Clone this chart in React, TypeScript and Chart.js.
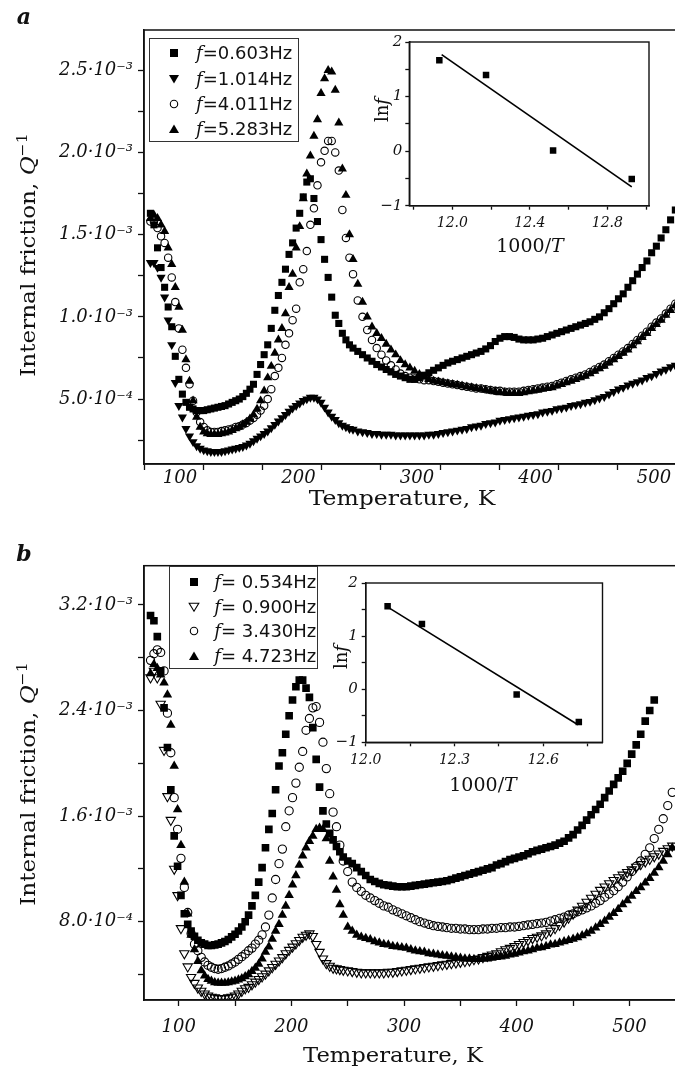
import React, { useEffect, useRef } from "react";
import { Chart, registerables } from "chart.js";

Chart.register(...registerables);

// ---------- Temperatures (K) ----------
const T_A = [
  75, 78, 81, 84, 87, 90, 93, 96, 99, 102, 105, 108, 111, 114, 117, 120, 123, 126, 129, 132,
  135, 138, 141, 144, 147, 150, 153, 156, 159, 162, 165, 168, 171, 174, 177, 180, 183, 186, 189, 192,
  195, 198, 201, 204, 207, 210, 213, 216, 219, 222, 225, 228, 231, 234, 237, 240, 243, 246,
  250, 254, 258, 262, 266, 270, 274, 278, 282, 286, 290, 294, 298, 302, 306, 310, 314, 318, 322, 326,
  330, 334, 338, 342, 346, 350, 354, 358, 362, 366, 370, 374, 378, 382, 386, 390, 394, 398, 402, 406,
  410, 414, 418, 422, 426, 430, 434, 438, 442, 446, 450, 454, 458, 462, 466, 470, 474, 478, 482, 486,
  490, 494, 498, 502, 506, 510, 514, 518,
];
const T_B = [
  75, 78, 81, 84, 87, 90, 93, 96, 99, 102, 105, 108, 111, 114, 117, 120, 123, 126, 129, 132,
  135, 138, 141, 144, 147, 150, 153, 156, 159, 162, 165, 168, 171, 174, 177, 180, 183, 186, 189, 192,
  195, 198, 201, 204, 207, 210, 213, 216, 219, 222, 225, 228, 231, 234, 237, 240, 243, 246,
  250, 254, 258, 262, 266, 270, 274, 278, 282, 286, 290, 294, 298, 302, 306, 310, 314, 318, 322, 326,
  330, 334, 338, 342, 346, 350, 354, 358, 362, 366, 370, 374, 378, 382, 386, 390, 394, 398, 402, 406,
  410, 414, 418, 422, 426, 430, 434, 438, 442, 446, 450, 454, 458, 462, 466, 470, 474, 478, 482, 486,
  490, 494, 498, 502, 506, 510, 514, 518, 522, 526, 530, 534, 538,
];

// ---------- Internal friction Q^-1, in units of 1e-4 ----------
// panel a
const QA_F0603 = [
  16.3, 15.6, 14.2, 13.0, 11.8, 10.6, 9.4, 7.6, 6.2, 5.3,
  4.8, 4.5, 4.4, 4.3, 4.3, 4.3, 4.35, 4.4, 4.45, 4.5,
  4.55, 4.6, 4.7, 4.8, 4.9, 5.0, 5.15, 5.35, 5.6, 5.9,
  6.5, 7.1, 7.7, 8.3, 9.3, 10.4, 11.3, 12.1, 12.9, 13.8,
  14.5, 15.4, 16.3, 17.3, 18.2, 18.4, 17.2, 15.8, 14.7, 13.5,
  12.4, 11.2, 10.1, 9.6, 9.0, 8.6, 8.3, 8.1,
  7.9, 7.7, 7.5, 7.3, 7.1, 6.95, 6.8, 6.65, 6.5, 6.4,
  6.3, 6.2, 6.2, 6.3, 6.45, 6.6, 6.75, 6.9, 7.05, 7.2,
  7.3, 7.4, 7.5, 7.6, 7.7, 7.8, 7.9, 8.05, 8.25, 8.5,
  8.7, 8.8, 8.8, 8.75, 8.65, 8.6, 8.6, 8.6, 8.65, 8.7,
  8.8, 8.9, 9.0, 9.1, 9.2, 9.3, 9.4, 9.5, 9.6, 9.7,
  9.85, 10.0, 10.25, 10.5, 10.8, 11.1, 11.4, 11.8, 12.2, 12.6,
  13.0, 13.4, 13.9, 14.3, 14.8, 15.3, 15.9, 16.5,
];
const QA_F1014 = [
  13.3, 13.3, 13.0, 12.4, 11.2, 9.8, 8.3, 6.0, 4.6, 3.9,
  3.2, 2.75, 2.4, 2.15, 2.0, 1.9, 1.85, 1.8, 1.8, 1.8,
  1.8, 1.85, 1.9, 1.95, 2.0, 2.05, 2.1, 2.2, 2.3, 2.45,
  2.6, 2.75, 2.9, 3.05, 3.25, 3.45, 3.65, 3.85, 4.05, 4.25,
  4.45, 4.6, 4.75, 4.9, 5.0, 5.1, 5.1, 5.0, 4.8, 4.5,
  4.2, 3.95, 3.75, 3.55, 3.4, 3.3, 3.2, 3.15,
  3.05, 3.0, 2.95, 2.9, 2.9, 2.85, 2.85, 2.85, 2.8, 2.8,
  2.8, 2.8, 2.8, 2.8, 2.8, 2.85, 2.85, 2.9, 2.95, 3.0,
  3.05, 3.1, 3.15, 3.2, 3.3, 3.35, 3.4, 3.5, 3.55, 3.6,
  3.7, 3.75, 3.8, 3.85, 3.9, 3.95, 4.0, 4.05, 4.1, 4.2,
  4.25, 4.3, 4.4, 4.45, 4.5, 4.6, 4.65, 4.7, 4.8, 4.85,
  4.95, 5.05, 5.15, 5.3, 5.45, 5.6, 5.7, 5.85, 5.95, 6.05,
  6.15, 6.3, 6.4, 6.55, 6.7, 6.8, 6.95, 7.05,
];
const QA_F4011 = [
  15.8, 15.8, 15.4, 14.9, 14.5, 13.6, 12.4, 10.9, 9.3, 8.0,
  6.9, 5.9, 4.9, 4.2, 3.6, 3.3, 3.1, 3.0, 3.0, 3.0,
  3.05, 3.1, 3.15, 3.2, 3.3, 3.35, 3.45, 3.55, 3.7, 3.85,
  4.05, 4.3, 4.6, 5.0, 5.6, 6.4, 6.9, 7.5, 8.3, 9.0,
  9.8, 10.5, 12.1, 12.9, 14.0, 15.6, 16.6, 18.0, 19.4, 20.1,
  20.7, 20.7, 20.0, 18.9, 16.5, 14.8, 13.6, 12.6,
  11.0, 10.0, 9.2, 8.6, 8.1, 7.7, 7.35, 7.05, 6.8, 6.55,
  6.4, 6.3, 6.25, 6.2, 6.15, 6.15, 6.1, 6.05, 6.0, 5.95,
  5.9, 5.85, 5.8, 5.75, 5.7, 5.65, 5.65, 5.6, 5.55, 5.5,
  5.5, 5.45, 5.45, 5.45, 5.45, 5.5, 5.55, 5.6, 5.65, 5.7,
  5.75, 5.8, 5.9, 6.0, 6.1, 6.2, 6.3, 6.4, 6.5, 6.65,
  6.8, 6.95, 7.1, 7.3, 7.5, 7.7, 7.9, 8.1, 8.35, 8.6,
  8.85, 9.1, 9.4, 9.65, 9.9, 10.2, 10.5, 10.8,
];
const QA_F5283 = [
  16.0, 16.2, 16.0, 15.6, 15.2, 14.2, 13.2, 11.8, 10.6, 9.2,
  7.4, 6.1, 4.9, 3.9, 3.3, 3.0, 2.9, 2.85, 2.85, 2.85,
  2.9, 2.95, 3.0, 3.1, 3.2, 3.3, 3.45, 3.6, 3.8, 4.05,
  4.4, 4.9, 5.5, 6.3, 7.0, 7.8, 8.6, 9.3, 10.2, 11.8,
  12.6, 14.2, 15.5, 17.2, 18.7, 19.8, 21.0, 22.0, 23.6, 24.5,
  25.0, 24.9, 23.8, 21.8, 19.0, 17.4, 15.0, 13.5,
  12.0, 10.9, 10.0, 9.4, 9.0, 8.7, 8.35, 8.0, 7.7, 7.35,
  7.1, 6.9, 6.7, 6.5, 6.35, 6.2, 6.1, 6.05, 6.0, 5.95,
  5.9, 5.85, 5.8, 5.75, 5.7, 5.65, 5.6, 5.55, 5.5, 5.45,
  5.4, 5.4, 5.35, 5.35, 5.35, 5.4, 5.45, 5.5, 5.55, 5.6,
  5.65, 5.7, 5.8, 5.9, 6.0, 6.1, 6.2, 6.3, 6.4, 6.55,
  6.7, 6.85, 7.0, 7.2, 7.4, 7.6, 7.8, 8.0, 8.25, 8.5,
  8.75, 9.0, 9.3, 9.55, 9.8, 10.1, 10.4, 10.7,
];
// panel b
const QB_F0534 = [
  31.2, 30.8, 29.6, 27.0, 24.2, 21.2, 18.0, 14.5, 12.2, 10.0,
  8.6, 7.8, 7.3, 6.9, 6.6, 6.4, 6.3, 6.2, 6.2, 6.25,
  6.3, 6.4, 6.5, 6.65, 6.85, 7.05, 7.3, 7.6, 8.0, 8.5,
  9.2, 10.0, 11.0, 12.1, 13.6, 15.0, 16.2, 18.0, 19.8, 20.8,
  22.2, 23.6, 24.8, 25.8, 26.3, 26.3, 25.7, 25.0, 22.7, 20.3,
  18.2, 16.4, 15.4, 14.7, 14.2, 13.7, 13.3, 12.9,
  12.6, 12.4, 12.1, 11.8, 11.5, 11.2, 11.05, 10.9, 10.8, 10.75,
  10.7, 10.65, 10.65, 10.65, 10.7, 10.75, 10.8, 10.85, 10.9, 10.95,
  11.0, 11.05, 11.1, 11.2, 11.3, 11.4, 11.5, 11.6, 11.7, 11.8,
  11.9, 12.0, 12.1, 12.3, 12.4, 12.55, 12.7, 12.8, 12.9, 13.0,
  13.15, 13.3, 13.4, 13.5, 13.6, 13.7, 13.8, 13.95, 14.1, 14.35,
  14.6, 14.95, 15.3, 15.7, 16.1, 16.5, 16.9, 17.4, 17.9, 18.4,
  18.9, 19.4, 20.0, 20.7, 21.4, 22.2, 23.2, 24.0, 24.8, null,
  null, null, null,
];
const QB_F0900 = [
  26.5, 27.0, 26.5, 24.5, 21.0, 17.5, 15.7, 12.0, 10.0, 7.5,
  5.6, 4.6, 3.8, 3.35, 3.0, 2.75, 2.55, 2.4, 2.3, 2.25,
  2.2, 2.2, 2.2, 2.25, 2.3, 2.4, 2.55, 2.75, 2.95, 3.05,
  3.25, 3.45, 3.65, 3.85, 4.05, 4.3, 4.55, 4.8, 5.05, 5.3,
  5.6, 5.85, 6.1, 6.35, 6.6, 6.85, 7.0, 7.1, 6.9, 6.3,
  5.7, 5.2, 4.85, 4.65, 4.5, 4.45, 4.4, 4.35,
  4.3, 4.25, 4.2, 4.15, 4.15, 4.15, 4.15, 4.15, 4.15, 4.2,
  4.2, 4.25, 4.3, 4.35, 4.4, 4.45, 4.5, 4.55, 4.6, 4.65,
  4.7, 4.75, 4.8, 4.85, 4.9, 4.95, 5.0, 5.05, 5.15, 5.2,
  5.3, 5.4, 5.5, 5.6, 5.75, 5.9, 6.0, 6.15, 6.3, 6.45,
  6.6, 6.75, 6.85, 6.95, 7.1, 7.3, 7.5, 7.75, 8.0, 8.3,
  8.6, 8.9, 9.2, 9.5, 9.8, 10.1, 10.4, 10.65, 10.9, 11.15,
  11.35, 11.55, 11.75, 11.95, 12.15, 12.35, 12.55, 12.75, 12.95, 13.15,
  13.35, 13.55, 13.75,
];
const QB_F3430 = [
  27.8, 28.3, 28.6, 28.4, 27.0, 23.8, 20.8, 17.4, 15.0, 12.8,
  10.6, 8.7, 7.1, 6.3, 5.8, 5.3, 4.95, 4.7, 4.55, 4.45,
  4.4, 4.45, 4.55, 4.65, 4.8, 4.95, 5.15, 5.35, 5.55, 5.8,
  6.0, 6.3, 6.6, 7.0, 7.6, 8.5, 9.8, 11.2, 12.4, 13.5,
  15.2, 16.4, 17.4, 18.5, 19.7, 20.9, 22.5, 23.4, 24.2, 24.3,
  23.1, 21.6, 19.6, 17.7, 16.3, 15.2, 13.8, 12.6,
  11.8, 11.0, 10.6, 10.3, 10.0, 9.8, 9.6, 9.4, 9.2, 9.1,
  8.9, 8.75, 8.6, 8.45, 8.3, 8.15, 8.0, 7.9, 7.8, 7.7,
  7.65, 7.6, 7.55, 7.5, 7.5, 7.45, 7.45, 7.4, 7.4, 7.4,
  7.45, 7.45, 7.5, 7.5, 7.55, 7.55, 7.6, 7.6, 7.65, 7.7,
  7.75, 7.8, 7.85, 7.9, 7.95, 8.05, 8.15, 8.25, 8.35, 8.5,
  8.6, 8.75, 8.9, 9.05, 9.2, 9.4, 9.6, 9.85, 10.1, 10.35,
  10.65, 11.0, 11.4, 11.8, 12.2, 12.6, 13.1, 13.6, 14.3, 15.0,
  15.8, 16.8, 17.8,
];
const QB_F4723 = [
  26.8, 27.5, 27.2, 26.7, 26.1, 25.2, 22.9, 19.8, 16.5, 13.8,
  11.0, 8.6, 7.0, 5.9, 5.0, 4.3, 3.9, 3.65, 3.5, 3.4,
  3.35, 3.35, 3.35, 3.4, 3.45, 3.5, 3.6, 3.7, 3.85, 4.0,
  4.25, 4.5, 4.8, 5.2, 5.7, 6.1, 6.7, 7.3, 7.8, 8.5,
  9.2, 10.0, 10.8, 11.5, 12.3, 13.0, 13.6, 14.1, 14.5, 15.0,
  15.1, 15.0, 14.3, 12.6, 11.4, 10.4, 9.3, 8.5,
  7.6, 7.3, 7.0, 6.85, 6.75, 6.65, 6.5, 6.4, 6.3, 6.25,
  6.15, 6.1, 6.05, 6.0, 5.9, 5.8, 5.75, 5.7, 5.6, 5.55,
  5.5, 5.45, 5.4, 5.35, 5.3, 5.25, 5.2, 5.2, 5.15, 5.15,
  5.2, 5.2, 5.25, 5.3, 5.35, 5.4, 5.5, 5.55, 5.65, 5.75,
  5.8, 5.9, 6.0, 6.05, 6.15, 6.25, 6.3, 6.4, 6.5, 6.6,
  6.7, 6.8, 6.95, 7.1, 7.3, 7.55, 7.8, 8.05, 8.35, 8.65,
  8.95, 9.3, 9.6, 9.95, 10.3, 10.6, 10.95, 11.3, 11.7, 12.1,
  12.6, 13.1, 13.6,
];

// ---------- Insets: ln f vs 1000/T ----------
const INSET_A_X = [11.933, 12.174, 12.52, 12.926];
const INSET_A_Y = [1.667, 1.395, 0.01, -0.51];
const FIT_A_X = [11.945, 12.926];
const FIT_A_Y = [1.77, -0.655];
const INSET_B_X = [12.074, 12.19, 12.51, 12.72];
const INSET_B_Y = [1.56, 1.23, -0.1, -0.62];
const FIT_B_X = [12.076, 12.717];
const FIT_B_Y = [1.54, -0.67];

// ---------- Tick labels / legend ----------
const Y_TICK_VALUES_A = [5, 10, 15, 20, 25];
const Y_TICK_LABELS_A = ["5.0·10⁻⁴", "1.0·10⁻³", "1.5·10⁻³", "2.0·10⁻³", "2.5·10⁻³"];
const Y_TICK_VALUES_B = [8, 16, 24, 32];
const Y_TICK_LABELS_B = ["8.0·10⁻⁴", "1.6·10⁻³", "2.4·10⁻³", "3.2·10⁻³"];
const X_TICK_VALUES = [100, 200, 300, 400, 500];
const LEGEND_A = ["=0.603Hz", "=1.014Hz", "=4.011Hz", "=5.283Hz"];
const LEGEND_B = ["= 0.534Hz", "= 0.900Hz", "= 3.430Hz", "= 4.723Hz"];

const SERIF = "'DejaVu Serif', serif";
const INK = "#111";

type Sty = { style: string; rot?: number; open?: boolean; r: number };
const SQ_A: Sty = { style: "rect", r: 5 };
const DN_A: Sty = { style: "triangle", rot: 180, r: 5.3 };
const CI_A: Sty = { style: "circle", open: true, r: 3.7 };
const UP_A: Sty = { style: "triangle", r: 5.3 };
const SQ_B: Sty = { style: "rect", r: 5.4 };
const DN_B: Sty = { style: "triangle", rot: 180, open: true, r: 5.4 };
const CI_B: Sty = { style: "circle", open: true, r: 4.1 };
const UP_B: Sty = { style: "triangle", r: 5.5 };

function scatterSet(T: number[], Q: (number | null)[], s: Sty) {
  const data: { x: number; y: number }[] = [];
  for (let i = 0; i < T.length; i++) {
    const q = Q[i];
    if (q !== null && q !== undefined) data.push({ x: T[i], y: q });
  }
  return {
    data,
    showLine: false,
    pointStyle: s.style,
    pointRotation: s.rot || 0,
    pointRadius: s.r,
    pointHoverRadius: s.r,
    pointBackgroundColor: s.open ? "rgba(0,0,0,0)" : "#000",
    pointBorderColor: "#000",
    pointBorderWidth: s.open ? 1.1 : 0,
  };
}

// frame around the plot area (and optional white fill for insets)
const framePlugin = {
  id: "frame",
  beforeDraw(chart: any, _a: any, opts: any) {
    if (!opts || !opts.fill) return;
    const { ctx, chartArea: a } = chart;
    ctx.save();
    ctx.fillStyle = "#fff";
    ctx.fillRect(a.left, a.top, a.right - a.left, a.bottom - a.top);
    ctx.restore();
  },
  afterDraw(chart: any, _a: any, opts: any) {
    const { ctx, chartArea: a } = chart;
    ctx.save();
    ctx.strokeStyle = INK;
    ctx.lineWidth = (opts && opts.width) || 1.5;
    ctx.strokeRect(a.left, a.top, a.right - a.left, a.bottom - a.top);
    ctx.restore();
  },
};

// temperature tick labels, placed with the x scale
const xLabelPlugin = {
  id: "xlabels",
  afterDraw(chart: any, _a: any, opts: any) {
    if (!opts || !opts.values) return;
    const { ctx, chartArea: a } = chart;
    const sx = chart.scales.x;
    ctx.save();
    ctx.fillStyle = INK;
    ctx.font = `italic ${opts.size}px ${SERIF}`;
    ctx.textAlign = "center";
    ctx.textBaseline = "middle";
    for (const v of opts.values) ctx.fillText(String(v), sx.getPixelForValue(v), a.bottom + opts.offset);
    ctx.restore();
  },
};

function axisBase(size: number, tickLen: number, pad: number) {
  return {
    border: { display: true, color: INK, width: 1.5 },
    grid: { drawOnChartArea: false, drawTicks: true, tickLength: tickLen, tickColor: INK, tickWidth: 1.3 },
    ticks: {
      color: INK,
      autoSkip: false,
      maxRotation: 0,
      includeBounds: false,
      padding: pad,
      font: { family: SERIF, style: "italic" as const, size },
    },
  };
}

function findLabel(v: number, vals: number[], labels: string[]) {
  for (let i = 0; i < vals.length; i++) if (Math.abs(v - vals[i]) < 1e-6) return labels[i];
  return "";
}

type MainCfg = {
  T: number[];
  series: { q: (number | null)[]; sty: Sty }[];
  xMin: number; xMax: number; yMin: number; yMax: number; yStep: number;
  yVals: number[]; yLabels: string[];
  padTop: number; xH: number; xLabelOffset: number;
};

function buildMain(canvas: HTMLCanvasElement, c: MainCfg) {
  const xb = axisBase(18, 6, 2);
  const yb = axisBase(18, 6, 5);
  return new Chart(canvas, {
    type: "scatter",
    data: { datasets: c.series.map((s) => scatterSet(c.T, s.q, s.sty)) as any },
    options: {
      animation: false,
      responsive: false,
      devicePixelRatio: 1,
      events: [],
      layout: { padding: { left: 0, top: c.padTop, right: 13, bottom: 0 } },
      plugins: {
        legend: { display: false },
        tooltip: { enabled: false },
        frame: { fill: false, width: 1.5 },
        xlabels: { values: X_TICK_VALUES, offset: c.xLabelOffset, size: 18 },
      } as any,
      scales: {
        x: {
          type: "linear",
          min: c.xMin,
          max: c.xMax,
          afterFit: (s: any) => { s.height = c.xH; },
          ...xb,
          ticks: { ...xb.ticks, stepSize: 50, callback: () => "" },
        },
        y: {
          type: "linear",
          min: c.yMin,
          max: c.yMax,
          afterFit: (s: any) => { s.width = 144; },
          ...yb,
          ticks: { ...yb.ticks, stepSize: c.yStep, callback: (v: any) => findLabel(v, c.yVals, c.yLabels) },
        },
      } as any,
    },
    plugins: [framePlugin as any, xLabelPlugin as any],
  });
}

type InsetCfg = {
  px: number[]; py: number[]; fx: number[]; fy: number[];
  xMin: number; xMax: number; xStep: number; isMajor: (v: number) => boolean;
  yW: number; padTop: number; padRight: number; xH: number; xPad: number; yPad: number;
};

function buildInset(canvas: HTMLCanvasElement, c: InsetCfg) {
  const xb = axisBase(14, 4, c.xPad);
  const yb = axisBase(15, 4, c.yPad);
  const pts = c.px.map((x, i) => ({ x, y: c.py[i] }));
  const fit = c.fx.map((x, i) => ({ x, y: c.fy[i] }));
  return new Chart(canvas, {
    type: "scatter",
    data: {
      datasets: [
        { data: pts, showLine: false, pointStyle: "rect", pointRadius: 4.6, pointBackgroundColor: "#000", pointBorderWidth: 0 },
        { data: fit, showLine: true, pointRadius: 0, borderColor: "#000", borderWidth: 1.6, fill: false },
      ] as any,
    },
    options: {
      animation: false,
      responsive: false,
      devicePixelRatio: 1,
      events: [],
      layout: { padding: { left: 0, top: c.padTop, right: c.padRight, bottom: 0 } },
      plugins: { legend: { display: false }, tooltip: { enabled: false }, frame: { fill: true, width: 1.4 } } as any,
      scales: {
        x: {
          type: "linear",
          min: c.xMin,
          max: c.xMax,
          afterFit: (s: any) => { s.height = c.xH; },
          ...xb,
          ticks: { ...xb.ticks, stepSize: c.xStep, callback: (v: any) => (c.isMajor(v) ? Number(v).toFixed(1) : "") },
        },
        y: {
          type: "linear",
          min: -1,
          max: 2,
          afterFit: (s: any) => { s.width = c.yW; },
          ...yb,
          ticks: {
            ...yb.ticks,
            stepSize: 0.5,
            callback: (v: any) => (Math.abs(v - Math.round(v)) < 1e-6 ? (v < 0 ? "−" + Math.abs(Math.round(v)) : String(Math.round(v))) : ""),
          },
        },
      } as any,
    },
    plugins: [framePlugin as any],
  });
}

function Txt(p: { x: number; y: number; size: number; rot?: number; sx?: number; bold?: boolean; italic?: boolean; children: any }) {
  return (
    <div
      style={{
        position: "absolute",
        left: p.x,
        top: p.y,
        transform: `translate(-50%,-50%) rotate(${p.rot || 0}deg) scaleX(${p.sx || 1})`,
        whiteSpace: "nowrap",
        fontFamily: SERIF,
        fontSize: p.size,
        lineHeight: 1,
        color: INK,
        fontWeight: p.bold ? "bold" : "normal",
        fontStyle: p.italic ? "italic" : "normal",
      }}
    >
      {p.children}
    </div>
  );
}

function Marker({ kind }: { kind: string }) {
  const common = { position: "absolute" as const, left: -7, top: -7 };
  let shape: any = null;
  if (kind === "sq") shape = <rect x={3} y={3} width={8} height={8} fill="#000" />;
  if (kind === "dn") shape = <polygon points="2,3 12,3 7,11.5" fill="#000" />;
  if (kind === "dno") shape = <polygon points="2.2,3.2 11.8,3.2 7,11.2" fill="none" stroke="#000" strokeWidth={1.1} />;
  if (kind === "ci") shape = <circle cx={7} cy={7} r={3.7} fill="none" stroke="#000" strokeWidth={1.1} />;
  if (kind === "up") shape = <polygon points="2,11 12,11 7,2.5" fill="#000" />;
  return (
    <svg width={14} height={14} style={common}>
      {shape}
    </svg>
  );
}

function Legend(p: { left: number; top: number; w: number; h: number; rows: number[]; mx: number; tx: number; kinds: string[]; labels: string[] }) {
  return (
    <div
      style={{
        position: "absolute",
        left: p.left,
        top: p.top,
        width: p.w,
        height: p.h,
        boxSizing: "border-box",
        border: "1.2px solid #333",
        background: "#fff",
      }}
    >
      {p.labels.map((lab, i) => (
        <React.Fragment key={i}>
          <div style={{ position: "absolute", left: p.mx, top: p.rows[i] }}>
            <Marker kind={p.kinds[i]} />
          </div>
          <div
            style={{
              position: "absolute",
              left: p.tx,
              top: p.rows[i],
              transform: "translateY(-50%)",
              whiteSpace: "nowrap",
              fontFamily: "'DejaVu Sans', sans-serif",
              fontSize: 18,
              lineHeight: 1,
              color: INK,
            }}
          >
            <span style={{ fontFamily: SERIF, fontStyle: "italic" }}>f</span>
            {lab}
          </div>
        </React.Fragment>
      ))}
    </div>
  );
}

const sup = { fontSize: "0.68em", verticalAlign: "0.55em" } as const;

export default function App() {
  const aRef = useRef<HTMLCanvasElement>(null);
  const bRef = useRef<HTMLCanvasElement>(null);
  const iaRef = useRef<HTMLCanvasElement>(null);
  const ibRef = useRef<HTMLCanvasElement>(null);

  useEffect(() => {
    const charts: Chart[] = [];
    if (aRef.current)
      charts.push(
        buildMain(aRef.current, {
          T: T_A,
          series: [
            { q: QA_F0603, sty: SQ_A },
            { q: QA_F1014, sty: DN_A },
            { q: QA_F4011, sty: CI_A },
            { q: QA_F5283, sty: UP_A },
          ],
          xMin: 69.6, xMax: 519.4, yMin: 1.05, yMax: 27.45, yStep: 2.5,
          yVals: Y_TICK_VALUES_A, yLabels: Y_TICK_LABELS_A,
          padTop: 30, xH: 60, xLabelOffset: 14,
        })
      );
    if (bRef.current)
      charts.push(
        buildMain(bRef.current, {
          T: T_B,
          series: [
            { q: QB_F0534, sty: SQ_B },
            { q: QB_F0900, sty: DN_B },
            { q: QB_F3430, sty: CI_B },
            { q: QB_F4723, sty: UP_B },
          ],
          xMin: 69.2, xMax: 542.2, yMin: 2.07, yMax: 34.97, yStep: 4,
          yVals: Y_TICK_VALUES_B, yLabels: Y_TICK_LABELS_B,
          padTop: 25.7, xH: 60, xLabelOffset: 27,
        })
      );
    if (iaRef.current)
      charts.push(
        buildInset(iaRef.current, {
          px: INSET_A_X, py: INSET_A_Y, fx: FIT_A_X, fy: FIT_A_Y,
          xMin: 11.778, xMax: 13.015, xStep: 0.2,
          isMajor: (v) => { const k = Math.round(v * 10); return (k - 120) % 4 === 0; },
          yW: 69.3, padTop: 10.7, padRight: 21, xH: 54.3, xPad: 5, yPad: 3,
        })
      );
    if (ibRef.current)
      charts.push(
        buildInset(ibRef.current, {
          px: INSET_B_X, py: INSET_B_Y, fx: FIT_B_X, fy: FIT_B_Y,
          xMin: 12.0, xMax: 12.8, xStep: 0.15,
          isMajor: (v) => Math.round(v * 100) % 30 === 0,
          yW: 65.7, padTop: 12.3, padRight: 17.5, xH: 57.7, xPad: 6, yPad: 4,
        })
      );
    return () => charts.forEach((c) => c.destroy());
  }, []);

  return (
    <div style={{ position: "absolute", left: 0, top: 0, width: 675, height: 1077, overflow: "hidden", background: "#fff" }}>
      <canvas ref={aRef} width={690} height={524} style={{ position: "absolute", left: 0, top: 0 }} />
      <canvas ref={bRef} width={690} height={520} style={{ position: "absolute", left: 0, top: 540 }} />
      <canvas ref={iaRef} width={330} height={230} style={{ position: "absolute", left: 340, top: 30 }} />
      <canvas ref={ibRef} width={320} height={230} style={{ position: "absolute", left: 300, top: 570 }} />

      {/* panel letters */}
      <Txt x={24} y={16} size={22} bold italic>a</Txt>
      <Txt x={24} y={553} size={22} bold italic>b</Txt>

      {/* axis titles */}
      <Txt x={27} y={255} size={21} sx={1.1} rot={-90}>
        Internal friction, <i>Q</i><span style={sup}>−1</span>
      </Txt>
      <Txt x={27} y={784} size={21} sx={1.1} rot={-90}>
        Internal friction, <i>Q</i><span style={sup}>−1</span>
      </Txt>
      <Txt x={402} y={498} size={21} sx={1.12}>Temperature, K</Txt>
      <Txt x={393} y={1055} size={21} sx={1.08}>Temperature, K</Txt>

      {/* inset titles */}
      <Txt x={382} y={110} size={18} rot={-90}>ln<i>f</i></Txt>
      <Txt x={530} y={245} size={19}>1000/<i>T</i></Txt>
      <Txt x={341} y={657} size={18} rot={-90}>ln<i>f</i></Txt>
      <Txt x={483} y={784} size={19}>1000/<i>T</i></Txt>

      {/* legends */}
      <Legend left={149} top={37.7} w={150.3} h={104} rows={[14.3, 40, 65, 90]} mx={24} tx={46} kinds={["sq", "dn", "ci", "up"]} labels={LEGEND_A} />
      <Legend left={169.3} top={565.7} w={149} h={103.3} rows={[15.3, 40, 64.3, 89.3]} mx={24} tx={44} kinds={["sq", "dno", "ci", "up"]} labels={LEGEND_B} />
    </div>
  );
}
